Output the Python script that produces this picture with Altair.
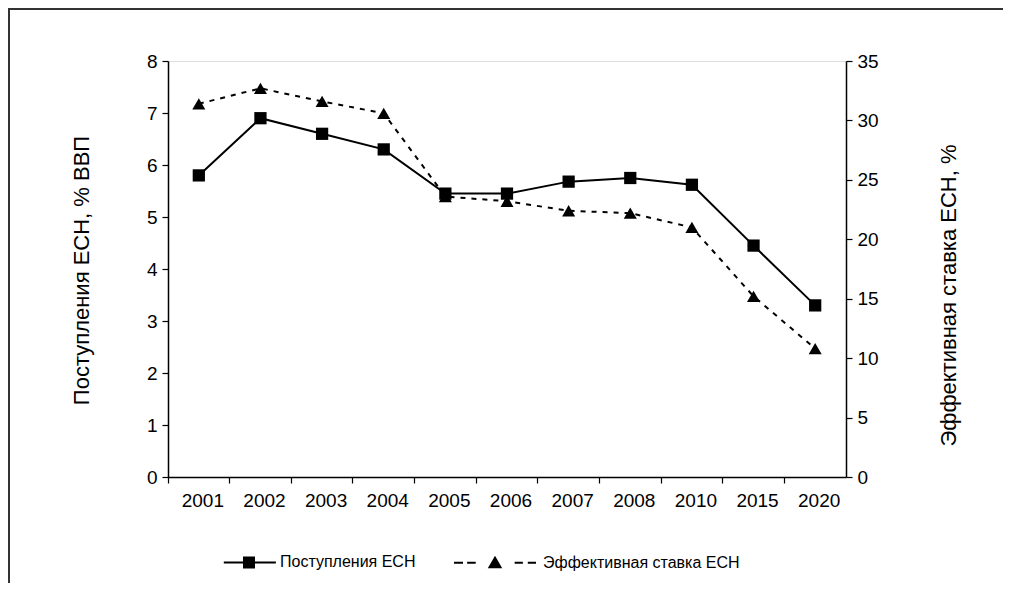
import altair as alt
import pandas as pd

years = ["2001", "2002", "2003", "2004", "2005", "2006", "2007", "2008", "2010", "2015", "2020"]
revenue = [5.8, 6.9, 6.6, 6.3, 5.45, 5.45, 5.68, 5.75, 5.62, 4.45, 3.3]
rate = [31.4, 32.7, 31.6, 30.6, 23.6, 23.2, 22.4, 22.2, 21.0, 15.2, 10.8]
series_names = ["Поступления ЕСН", "Эффективная ставка ЕСН"]
left_ticks = [0, 1, 2, 3, 4, 5, 6, 7, 8]
right_ticks = [0, 5, 10, 15, 20, 25, 30, 35]

FONT = "Liberation Sans"

df = pd.DataFrame({"year": years, "revenue": revenue, "rate": rate})

xenc = alt.X(
    "year:O",
    sort=years,
    scale=alt.Scale(type="band", paddingInner=0, paddingOuter=0),
    axis=alt.Axis(
        title=None, labelAngle=0, bandPosition=0, tickSize=6, labelPadding=8, labelOffset=4,
        labelFontSize=19, labelFont=FONT, labelColor="black",
        domainColor="black", tickColor="black", domainWidth=1.5, tickWidth=1.2,
    ),
)

yleft = alt.Y(
    "revenue:Q",
    scale=alt.Scale(domain=[0, 8], nice=False),
    axis=alt.Axis(
        values=left_ticks, title="Поступления ЕСН, % ВВП", grid=False,
        tickSize=6, labelPadding=5, labelFontSize=19, labelFont=FONT, labelColor="black",
        titleFont=FONT, titleFontSize=22, titleFontWeight="normal", titleColor="black",
        titleX=-80, titleY=209, titleAngle=270, titleBaseline="alphabetic", titleAlign="center",
        domainColor="black", tickColor="black", domainWidth=1.5, tickWidth=1.2,
    ),
)

yright = alt.Y(
    "rate:Q",
    scale=alt.Scale(domain=[0, 35], nice=False),
    axis=alt.Axis(
        orient="right", values=right_ticks, title="Эффективная ставка ЕСН, %", grid=False,
        tickSize=6, labelPadding=5, labelFontSize=19, labelFont=FONT, labelColor="black",
        titleFont=FONT, titleFontSize=22, titleFontWeight="normal", titleColor="black",
        titleX=109, titleY=234, titleAngle=270, titleBaseline="alphabetic", titleAlign="center",
        domainColor="black", tickColor="black", domainWidth=1.5, tickWidth=1.2,
    ),
)

base = alt.Chart(df)

rev_line = base.mark_line(color="black", strokeWidth=2).encode(x=xenc, y=yleft)
rev_pts = base.mark_point(shape="square", filled=True, color="black", size=150, opacity=1).encode(x=xenc, y=yleft)
left_layer = alt.layer(rev_line, rev_pts)

rate_line = base.mark_line(color="black", strokeWidth=2, strokeDash=[5, 6]).encode(x=xenc, y=yright)
rate_pts = base.mark_point(shape="triangle-up", filled=True, color="black", size=170, opacity=1).encode(x=xenc, y=yright)
right_layer = alt.layer(rate_line, rate_pts)

# legend glyphs (unit = sqrt(symbolSize)/2 = 41 px): line + hatched square / dashes + hatched triangle
path1 = (
    "M-0.2,0H1.07"
    "M0.268,-0.122H0.561M0.268,-0.073H0.561M0.268,-0.024H0.561"
    "M0.268,0.024H0.561M0.268,0.073H0.561M0.268,0.122H0.561"
)
path2 = (
    "M-1,0H-0.78M-0.68,0H-0.47M0.48,0H0.68M0.8,0H1"
    "M0,-0.122L0.134,0.11L-0.134,0.11Z"
    "M-0.035,-0.061H0.035M-0.063,-0.012H0.063M-0.092,0.037H0.092M-0.112,0.073H0.112"
)

legend_df = pd.DataFrame({"series": series_names})
legend_layer = alt.Chart(legend_df).transform_filter("false").mark_point(
    filled=False, color="black"
).encode(
    shape=alt.Shape(
        "series:N",
        scale=alt.Scale(domain=series_names, range=[path1, path2]),
        legend=alt.Legend(
            title=None, orient="none", direction="horizontal", legendX=22, legendY=459,
            symbolSize=6724, symbolFillColor="black", symbolStrokeColor="black",
            symbolStrokeWidth=2, symbolOpacity=1, labelFont=FONT, labelFontSize=16,
            labelColor="black", labelOffset=6, labelLimit=400, columnPadding=34, padding=0,
        ),
    )
)

frame_df = pd.DataFrame({"a": [0]})
frame_left = alt.Chart(frame_df).mark_rule(color="#333333", strokeWidth=2).encode(
    x=alt.value(-159), y=alt.value(-52), y2=alt.value(700)
)
frame_top = alt.Chart(frame_df).mark_rule(color="#333333", strokeWidth=2).encode(
    x=alt.value(-160), x2=alt.value(900), y=alt.value(-52)
)

chart = alt.layer(
    left_layer, right_layer, legend_layer, frame_left, frame_top
).resolve_scale(y="independent").properties(
    width=678, height=416,
    autosize=alt.AutoSizeParams(type="none"),
    padding={"left": 160, "top": 53, "right": 157, "bottom": 106},
).configure_view(stroke="black", strokeWidth=1.5).configure(background="white")

chart.save("out.html", embed_options={"renderer": "svg", "actions": False})
